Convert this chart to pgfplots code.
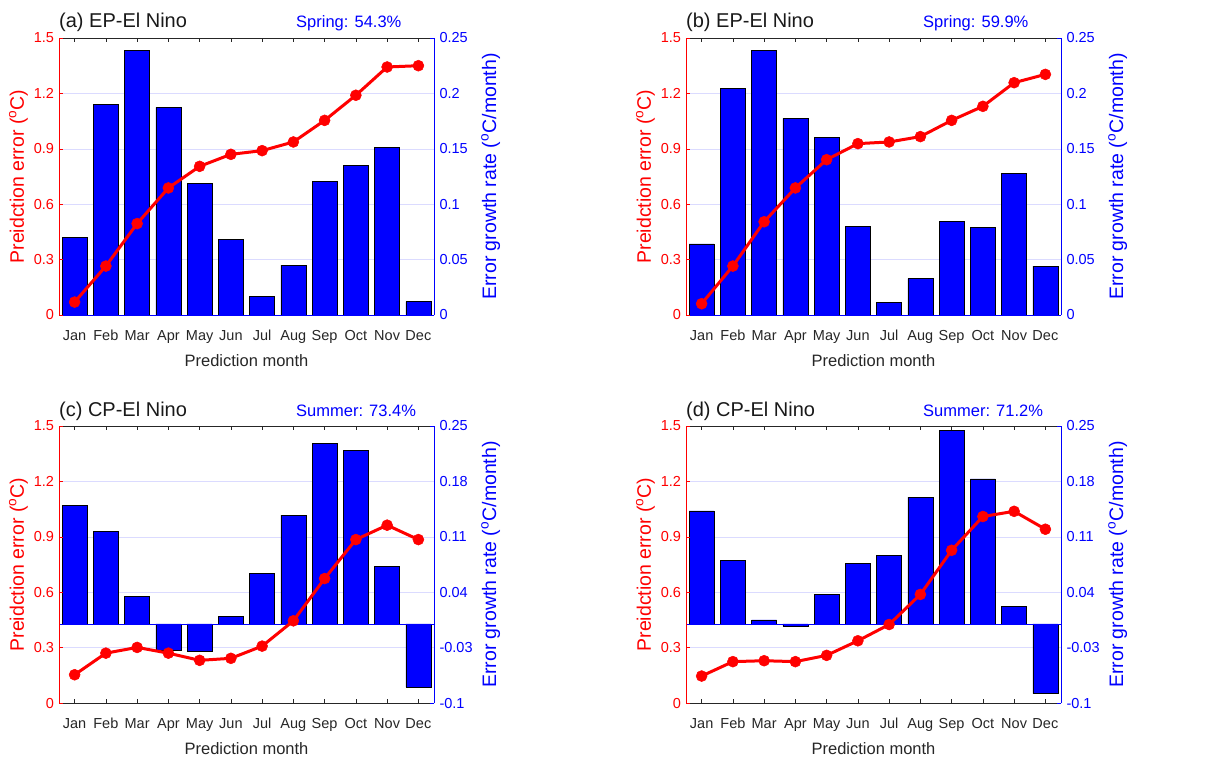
\documentclass[border=0pt]{standalone}
\usepackage{pgfplots}
\pgfplotsset{compat=1.18}
\usepackage{pgfplotstable}
\usepackage{fontspec}
\setmainfont{Liberation Sans}
\definecolor{mred}{rgb}{1,0,0}
\definecolor{mblue}{rgb}{0,0,1}
\definecolor{mgray}{rgb}{0.15,0.15,0.15}
\definecolor{mgrid}{rgb}{0.86,0.86,1}
\newcommand{\tickfont}{\fontsize{14.5bp}{17bp}\selectfont}
\newcommand{\labfont}{\fontsize{16.5bp}{19bp}\selectfont}
\newcommand{\ylabfont}{\fontsize{19.5bp}{22bp}\selectfont}
\newcommand{\titfont}{\fontsize{20bp}{23bp}\selectfont}

\pgfplotstableread{
m e r
1 0.070 0.0701
2 0.265 0.190
3 0.495 0.2386
4 0.688 0.1874
5 0.805 0.1191
6 0.870 0.068
7 0.890 0.0171
8 0.937 0.0451
9 1.054 0.1203
10 1.190 0.1351
11 1.343 0.1513
12 1.350 0.0120
}\tabA
\pgfplotstableread{
m e r
1 0.061 0.0641
2 0.265 0.2043
3 0.505 0.2389
4 0.688 0.1775
5 0.841 0.1604
6 0.928 0.0800
7 0.937 0.0111
8 0.966 0.0328
9 1.054 0.0848
10 1.130 0.0788
11 1.258 0.1276
12 1.303 0.0442
}\tabB
\pgfplotstableread{
m e r
1 0.153 0.1495
2 0.270 0.1171
3 0.301 0.0350
4 0.270 -0.0331
5 0.231 -0.0352
6 0.242 0.0098
7 0.308 0.0641
8 0.445 0.1373
9 0.674 0.2281
10 0.885 0.2193
11 0.963 0.0729
12 0.885 -0.0798
}\tabC
\pgfplotstableread{
m e r
1 0.146 0.1427
2 0.224 0.0804
3 0.229 0.0052
4 0.224 -0.0028
5 0.258 0.0376
6 0.337 0.0767
7 0.425 0.0868
8 0.588 0.1600
9 0.827 0.2441
10 1.010 0.1831
11 1.038 0.0224
12 0.941 -0.0882
}\tabD

\pgfplotsset{
  base/.style={scale only axis, width=375bp, height=277bp, xmin=0.5, xmax=12.5,
    tick align=inside, major tick length=4bp, anchor=south west},
}

\newcommand{\panel}[8]{%
  % box top/bottom with month ticks
  \begin{axis}[base, at={#1}, axis x line=box, axis y line=none,
    axis line style={mgray, line width=0.7bp},
    ymin=0, ymax=1, ytick=\empty,
    xtick={1,2,3,4,5,6,7,8,9,10,11,12},
    xticklabels={Jan,Feb,Mar,Apr,May,Jun,Jul,Aug,Sep,Oct,Nov,Dec},
    xtick style={mgray, line width=0.6bp},
    xticklabel style={font=\tickfont, text=mgray, anchor=base, yshift=-25bp},
    xlabel={Prediction month},
    every axis x label/.style={at={(axis description cs:0.5,0)}, anchor=base,
      yshift=-51bp, font=\labfont, text=mgray}]
  \end{axis}
  % right axis: error growth rate (bars)
  \begin{axis}[base, at={#1}, axis x line=none, axis y line*=right,
    ymin=#5, ymax=0.25, ytick={#6}, yticklabels={#7},
    y axis line style={mblue, line width=0.7bp},
    ytick style={mblue, line width=0.6bp},
    yticklabel style={font=\tickfont, text=mblue, xshift=2bp},
    extra y ticks={#8}, extra y tick labels={},
    extra y tick style={ymajorgrids=true, major tick length=0pt},
    grid style={mgrid, line width=0.6bp},
    ylabel={Error growth rate (\textsuperscript{o}C/month)},
    every axis y label/.style={at={(axis description cs:1.151,0.5)}, rotate=90,
      anchor=center, font=\ylabfont, text=mblue}]
    \addplot[ybar, bar width=0.8, fill=mblue, draw=black, line width=0.5bp]
      table[x=m, y=r] {#2};
    \draw[mblue, line width=0.6bp] (axis cs:0.5,0) -- (axis cs:12.5,0);
  \end{axis}
  % left axis: prediction error (line)
  \begin{axis}[base, at={#1}, axis x line=none, axis y line*=left,
    clip mode=individual,
    ymin=0, ymax=1.5, ytick={0,0.3,0.6,0.9,1.2,1.5},
    yticklabels={0,0.3,0.6,0.9,1.2,1.5},
    y axis line style={mred, line width=0.7bp},
    ytick style={mred, line width=0.6bp},
    yticklabel style={font=\tickfont, text=mred, xshift=-1.5bp},
    ylabel={Preidction error (\textsuperscript{o}C)},
    every axis y label/.style={at={(axis description cs:-0.108,0.5)}, rotate=90,
      anchor=center, font=\ylabfont, text=mred}]
    \addplot[mred, line width=3bp, mark=*, mark size=5.5bp,
      mark options={fill=mred, draw=mred, line width=0.5bp}]
      table[x=m, y=e] {#2};
    \node[anchor=base west, font=\titfont, text=black!90, inner sep=0pt]
      at (rel axis cs:0,1) [yshift=10bp] {#3};
    \node[anchor=base west, font=\labfont, text=mblue, inner sep=0pt]
      at (rel axis cs:0.632,1) [yshift=10bp] {#4};
  \end{axis}
}

\begin{document}
\begin{tikzpicture}
\path[use as bounding box] (0,0) rectangle (1224bp,-759bp);
\panel{(59bp,-315bp)}{\tabA}{(a) EP-El Nino}{Spring: 54.3\%}{0}{0,0.05,0.1,0.15,0.2,0.25}{0,0.05,0.1,0.15,0.2,0.25}{0.05,0.1,0.15,0.2}
\panel{(686bp,-315bp)}{\tabB}{(b) EP-El Nino}{Spring: 59.9\%}{0}{0,0.05,0.1,0.15,0.2,0.25}{0,0.05,0.1,0.15,0.2,0.25}{0.05,0.1,0.15,0.2}
\panel{(59bp,-703bp)}{\tabC}{(c) CP-El Nino}{Summer: 73.4\%}{-0.1}{-0.1,-0.03,0.04,0.11,0.18,0.25}{-0.1,-0.03,0.04,0.11,0.18,0.25}{-0.03,0.04,0.11,0.18}
\panel{(686bp,-703bp)}{\tabD}{(d) CP-El Nino}{Summer: 71.2\%}{-0.1}{-0.1,-0.03,0.04,0.11,0.18,0.25}{-0.1,-0.03,0.04,0.11,0.18,0.25}{-0.03,0.04,0.11,0.18}
\end{tikzpicture}
\end{document}
